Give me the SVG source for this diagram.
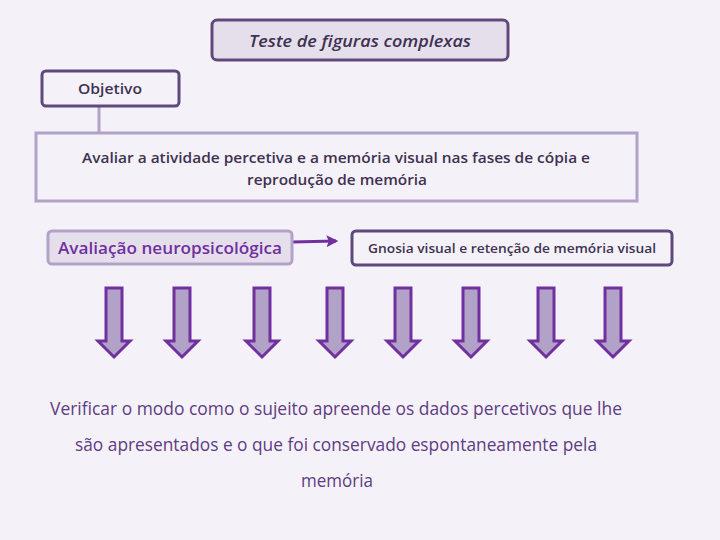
<svg xmlns="http://www.w3.org/2000/svg" width="720" height="540" viewBox="0 0 720 540">
<defs>
<style>
text{font-family:"Open Sans","Liberation Sans",sans-serif;text-anchor:middle}
.dark{fill:#3f3151;font-weight:600}
.box1{fill:#e5dfec;stroke:#5f497a;stroke-width:3}
.box2{fill:#f4f2f8;stroke:#5f497a;stroke-width:3}
.box3{fill:#f4f2f8;stroke:#b3a2c7;stroke-width:3}
.down{fill:#b3a2c7;stroke:#7030a0;stroke-width:3;stroke-linejoin:miter}
</style>
<marker id="ah" viewBox="0 0 10 10" refX="8" refY="5" markerWidth="4" markerHeight="4" orient="auto" markerUnits="strokeWidth">
<path d="M0,0 L10,5 L0,10 L2,5 z" fill="#7030a0"/>
</marker>
<path id="dn" d="M-8,0 H8 V53 H16 L0,69 L-16,53 H-8 Z"/>
</defs>
<rect width="720" height="540" fill="#f4f2f8"/>
<g id="connectors">
<line x1="99" y1="106" x2="99" y2="133" stroke="#b3a2c7" stroke-width="3"/>
<line x1="292" y1="242" x2="336" y2="241" stroke="#7030a0" stroke-width="3" marker-end="url(#ah)"/>
</g>
<g id="title">
<rect class="box1" x="212" y="20" width="296" height="40" rx="5"/>
<text x="360" y="47" class="dark" font-size="17" font-style="italic" textLength="222" lengthAdjust="spacingAndGlyphs">Teste de figuras complexas</text>
</g>
<g id="objetivo">
<rect class="box2" x="42" y="71" width="137" height="35" rx="4"/>
<text x="110" y="94" class="dark" font-size="14" textLength="64" lengthAdjust="spacingAndGlyphs">Objetivo</text>
</g>
<g id="objective-text">
<rect class="box3" x="36" y="133" width="601" height="68"/>
<text x="336" y="163" class="dark" font-size="14" textLength="508" lengthAdjust="spacingAndGlyphs">Avaliar a atividade percetiva e a memória visual nas fases de cópia e</text>
<text x="337" y="185" class="dark" font-size="14" textLength="180" lengthAdjust="spacingAndGlyphs">reprodução de memória</text>
</g>
<g id="avaliacao">
<rect x="48" y="231" width="244" height="33" rx="4" fill="#e5dfec" stroke="#b3a2c7" stroke-width="3"/>
<text x="170" y="254" fill="#7030a0" font-weight="600" font-size="17" textLength="224" lengthAdjust="spacingAndGlyphs">Avaliação neuropsicológica</text>
</g>
<g id="gnosia">
<rect class="box2" x="352" y="231" width="320" height="34" rx="4"/>
<text x="512" y="253" class="dark" font-size="13" textLength="288" lengthAdjust="spacingAndGlyphs">Gnosia visual e retenção de memória visual</text>
</g>
<g id="arrows">
<use href="#dn" class="down" x="114" y="288"/>
<use href="#dn" class="down" x="182" y="288"/>
<use href="#dn" class="down" x="262" y="288"/>
<use href="#dn" class="down" x="335" y="288"/>
<use href="#dn" class="down" x="403" y="288"/>
<use href="#dn" class="down" x="471" y="288"/>
<use href="#dn" class="down" x="546" y="288"/>
<use href="#dn" class="down" x="613" y="288"/>
</g>
<g id="conclusion" fill="#603c82" font-size="18">
<text x="336" y="415" textLength="572" lengthAdjust="spacingAndGlyphs">Verificar o modo como o sujeito apreende os dados percetivos que lhe</text>
<text x="336" y="451" textLength="522" lengthAdjust="spacingAndGlyphs">são apresentados e o que foi conservado espontaneamente pela</text>
<text x="337" y="487" textLength="72" lengthAdjust="spacingAndGlyphs">memória</text>
</g>
</svg>
